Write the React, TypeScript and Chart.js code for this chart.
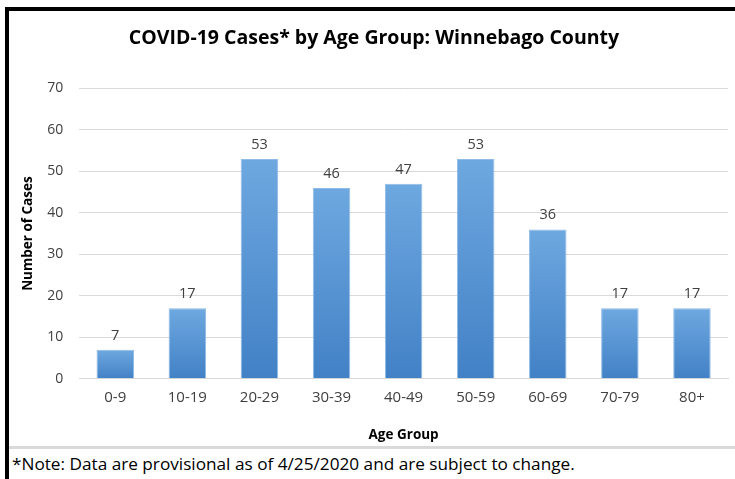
import React, { useEffect, useRef } from "react";
import { Chart, registerables } from "chart.js";

Chart.register(...registerables);

const categories = ["0-9", "10-19", "20-29", "30-39", "40-49", "50-59", "60-69", "70-79", "80+"];
const cases = [7, 17, 53, 46, 47, 53, 36, 17, 17];
const yTicks = [0, 10, 20, 30, 40, 50, 60, 70];
const titleText = "COVID-19 Cases* by Age Group: Winnebago County";
const xTitle = "Age Group";
const yTitle = "Number of Cases";
const noteText = "*Note: Data are provisional as of 4/25/2020 and are subject to change.";

const FONT = "'Open Sans', sans-serif";

const valueLabels = {
  id: "valueLabels",
  afterDatasetsDraw(chart: any) {
    const ctx = chart.ctx;
    const meta = chart.getDatasetMeta(0);
    ctx.save();
    ctx.font = `14.5px ${FONT}`;
    ctx.fillStyle = "#404040";
    ctx.textAlign = "center";
    ctx.textBaseline = "bottom";
    meta.data.forEach((bar: any, i: number) => {
      ctx.fillText(String(cases[i]), bar.x, bar.y - 7);
    });
    ctx.restore();
  },
};

export default function App() {
  const ref = useRef<HTMLCanvasElement | null>(null);

  useEffect(() => {
    document.body.style.margin = "0";
    const canvas = ref.current!;
    const chart = new Chart(canvas, {
      type: "bar",
      data: {
        labels: categories,
        datasets: [
          {
            data: cases,
            backgroundColor: (c: any) => {
              const ch = c.chart;
              if (!ch.chartArea || c.type !== "data") return "#5b9bd5";
              const ys = ch.scales.y;
              const top = ys.getPixelForValue(c.raw);
              const bottom = ys.getPixelForValue(0);
              const g = ch.ctx.createLinearGradient(0, top, 0, bottom);
              g.addColorStop(0, "#6ea8e0");
              g.addColorStop(1, "#4281c6");
              return g;
            },
            borderColor: "#8fbbe6",
            borderWidth: 1,
            borderSkipped: "bottom",
            categoryPercentage: 1,
            barPercentage: 0.52,
          },
        ],
      },
      options: {
        animation: false,
        responsive: false,
        maintainAspectRatio: false,
        layout: { padding: { left: 11, right: 7, top: 4, bottom: 3 } },
        plugins: {
          legend: { display: false },
          tooltip: { enabled: false },
          title: {
            display: true,
            text: titleText,
            color: "#000000",
            font: { family: FONT, size: 19.5, weight: "bold" },
            padding: { top: 12, bottom: 38 },
          },
        },
        scales: {
          x: {
            grid: { display: false, drawTicks: false },
            border: { display: true, color: "#d9d9d9", width: 1 },
            ticks: {
              color: "#404040",
              font: { family: FONT, size: 15 },
              padding: 10,
            },
            title: {
              display: true,
              text: xTitle,
              color: "#000000",
              font: { family: FONT, size: 13.5, weight: "bold" },
              padding: { top: 10, bottom: 0 },
            },
          },
          y: {
            min: 0,
            max: 70,
            afterBuildTicks: (axis: any) => {
              axis.ticks = yTicks.map((v) => ({ value: v }));
            },
            grid: { color: "#d9d9d9", drawTicks: false, lineWidth: 1 },
            border: { display: false },
            ticks: {
              color: "#404040",
              font: { family: FONT, size: 14 },
              padding: 16,
            },
            title: {
              display: true,
              text: yTitle,
              color: "#000000",
              font: { family: FONT, size: 13.5, weight: "bold" },
              padding: { top: 0, bottom: -5 },
            },
          },
        },
      },
      plugins: [valueLabels],
    });
    return () => chart.destroy();
  }, []);

  return (
    <div style={{ position: "relative", width: 735, height: 479, background: "#ffffff", overflow: "hidden" }}>
      <div style={{ position: "absolute", left: 5, top: 7, width: 730, height: 4, background: "#000" }} />
      <div style={{ position: "absolute", left: 5, top: 7, width: 4, height: 472, background: "#000" }} />
      <canvas
        ref={ref}
        width={726}
        height={435}
        style={{ position: "absolute", left: 9, top: 11, width: 726, height: 435 }}
      />
      <div style={{ position: "absolute", left: 9, top: 446, width: 726, height: 3, background: "#d9d9d9" }} />
      <div
        style={{
          position: "absolute",
          left: 12,
          top: 452,
          fontFamily: FONT,
          fontSize: 17.2,
          color: "#000",
          whiteSpace: "nowrap",
        }}
      >
        {noteText}
      </div>
    </div>
  );
}
